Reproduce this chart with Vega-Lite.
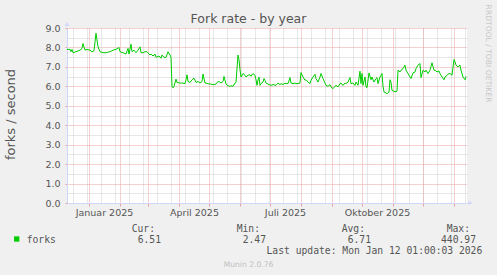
{
  "$schema": "https://vega.github.io/schema/vega-lite/v6.json",
  "width": 400,
  "height": 175,
  "autosize": {"type": "none"},
  "padding": {"left": 67, "top": 28, "right": 30, "bottom": 72},
  "background": "#F0F0F0",
  "config": {"view": {"fill": "#FFFFFF", "stroke": null}, "font": "DejaVu Sans"},
  "title": {"text": "Fork rate - by year", "font": "DejaVu Sans", "fontSize": 12.5, "fontWeight": "normal", "color": "#555555", "anchor": "middle", "frame": "group", "dx": -18.5, "dy": 31, "offset": 0, "baseline": "alphabetic"},
  "datasets": {
    "forks": [
      {"date": "2024-12-10", "value": 7.90}, {"date": "2024-12-13", "value": 7.90}, {"date": "2024-12-14", "value": 7.78}, {"date": "2024-12-15", "value": 7.90},
      {"date": "2024-12-16", "value": 7.73}, {"date": "2024-12-19", "value": 7.78}, {"date": "2024-12-23", "value": 7.86}, {"date": "2024-12-25", "value": 7.95},
      {"date": "2024-12-26", "value": 8.20}, {"date": "2024-12-28", "value": 7.86}, {"date": "2024-12-30", "value": 7.90}, {"date": "2025-01-02", "value": 7.86},
      {"date": "2025-01-04", "value": 7.78}, {"date": "2025-01-06", "value": 7.83}, {"date": "2025-01-08", "value": 8.73}, {"date": "2025-01-10", "value": 8.03},
      {"date": "2025-01-12", "value": 7.78}, {"date": "2025-01-15", "value": 7.73}, {"date": "2025-01-18", "value": 7.73}, {"date": "2025-01-22", "value": 7.78},
      {"date": "2025-01-25", "value": 7.86}, {"date": "2025-01-28", "value": 7.90}, {"date": "2025-01-31", "value": 8.00}, {"date": "2025-02-01", "value": 7.78},
      {"date": "2025-02-04", "value": 7.73}, {"date": "2025-02-07", "value": 7.66}, {"date": "2025-02-09", "value": 7.95}, {"date": "2025-02-10", "value": 7.66},
      {"date": "2025-02-12", "value": 8.17}, {"date": "2025-02-13", "value": 7.78}, {"date": "2025-02-15", "value": 7.86}, {"date": "2025-02-17", "value": 7.73},
      {"date": "2025-02-19", "value": 7.86}, {"date": "2025-02-21", "value": 8.03}, {"date": "2025-02-22", "value": 7.73}, {"date": "2025-02-24", "value": 7.73},
      {"date": "2025-02-26", "value": 7.78}, {"date": "2025-02-28", "value": 7.78}, {"date": "2025-03-03", "value": 7.61}, {"date": "2025-03-04", "value": 7.66},
      {"date": "2025-03-06", "value": 7.56}, {"date": "2025-03-08", "value": 7.66}, {"date": "2025-03-09", "value": 7.49}, {"date": "2025-03-12", "value": 7.56},
      {"date": "2025-03-14", "value": 7.44}, {"date": "2025-03-15", "value": 7.61}, {"date": "2025-03-17", "value": 7.49}, {"date": "2025-03-19", "value": 7.49},
      {"date": "2025-03-21", "value": 7.78}, {"date": "2025-03-23", "value": 7.61}, {"date": "2025-03-24", "value": 7.49}, {"date": "2025-03-25", "value": 6.00},
      {"date": "2025-03-26", "value": 5.92}, {"date": "2025-03-27", "value": 6.00}, {"date": "2025-03-29", "value": 6.37}, {"date": "2025-03-30", "value": 6.20},
      {"date": "2025-04-02", "value": 6.17}, {"date": "2025-04-04", "value": 6.17}, {"date": "2025-04-07", "value": 6.14}, {"date": "2025-04-08", "value": 6.34},
      {"date": "2025-04-09", "value": 6.59}, {"date": "2025-04-10", "value": 6.25}, {"date": "2025-04-12", "value": 6.20}, {"date": "2025-04-14", "value": 6.34},
      {"date": "2025-04-16", "value": 6.42}, {"date": "2025-04-18", "value": 6.20}, {"date": "2025-04-20", "value": 6.25}, {"date": "2025-04-22", "value": 6.17},
      {"date": "2025-04-24", "value": 6.25}, {"date": "2025-04-25", "value": 6.63}, {"date": "2025-04-27", "value": 6.17}, {"date": "2025-04-28", "value": 6.17},
      {"date": "2025-05-01", "value": 6.12}, {"date": "2025-05-03", "value": 6.12}, {"date": "2025-05-05", "value": 6.08}, {"date": "2025-05-08", "value": 6.12},
      {"date": "2025-05-09", "value": 6.20}, {"date": "2025-05-11", "value": 6.25}, {"date": "2025-05-13", "value": 6.17}, {"date": "2025-05-15", "value": 6.25},
      {"date": "2025-05-16", "value": 6.51}, {"date": "2025-05-18", "value": 6.12}, {"date": "2025-05-20", "value": 6.03}, {"date": "2025-05-22", "value": 6.00},
      {"date": "2025-05-23", "value": 6.03}, {"date": "2025-05-25", "value": 6.00}, {"date": "2025-05-27", "value": 6.17}, {"date": "2025-05-28", "value": 6.20},
      {"date": "2025-05-30", "value": 7.61}, {"date": "2025-05-31", "value": 7.36}, {"date": "2025-06-01", "value": 6.85}, {"date": "2025-06-02", "value": 6.48},
      {"date": "2025-06-04", "value": 6.66}, {"date": "2025-06-06", "value": 6.57}, {"date": "2025-06-07", "value": 6.48}, {"date": "2025-06-09", "value": 6.57},
      {"date": "2025-06-11", "value": 6.60}, {"date": "2025-06-12", "value": 6.52}, {"date": "2025-06-14", "value": 6.66}, {"date": "2025-06-16", "value": 6.57},
      {"date": "2025-06-17", "value": 6.34}, {"date": "2025-06-18", "value": 6.05}, {"date": "2025-06-19", "value": 6.34}, {"date": "2025-06-20", "value": 6.48},
      {"date": "2025-06-21", "value": 6.05}, {"date": "2025-06-22", "value": 6.14}, {"date": "2025-06-24", "value": 6.22}, {"date": "2025-06-25", "value": 6.40},
      {"date": "2025-06-26", "value": 6.31}, {"date": "2025-06-27", "value": 6.17}, {"date": "2025-06-30", "value": 6.09}, {"date": "2025-07-02", "value": 6.05},
      {"date": "2025-07-04", "value": 6.09}, {"date": "2025-07-07", "value": 6.05}, {"date": "2025-07-09", "value": 6.17}, {"date": "2025-07-11", "value": 6.09},
      {"date": "2025-07-12", "value": 6.14}, {"date": "2025-07-14", "value": 6.09}, {"date": "2025-07-16", "value": 6.17}, {"date": "2025-07-17", "value": 6.14},
      {"date": "2025-07-19", "value": 6.14}, {"date": "2025-07-21", "value": 6.45}, {"date": "2025-07-22", "value": 6.17}, {"date": "2025-07-24", "value": 6.14},
      {"date": "2025-07-26", "value": 6.17}, {"date": "2025-07-27", "value": 6.14}, {"date": "2025-07-29", "value": 6.14}, {"date": "2025-07-31", "value": 6.17},
      {"date": "2025-08-01", "value": 6.71}, {"date": "2025-08-03", "value": 6.48}, {"date": "2025-08-05", "value": 6.31}, {"date": "2025-08-06", "value": 6.34},
      {"date": "2025-08-08", "value": 6.22}, {"date": "2025-08-10", "value": 6.14}, {"date": "2025-08-11", "value": 6.31}, {"date": "2025-08-13", "value": 6.48},
      {"date": "2025-08-15", "value": 6.62}, {"date": "2025-08-16", "value": 6.40}, {"date": "2025-08-18", "value": 6.22}, {"date": "2025-08-20", "value": 6.48},
      {"date": "2025-08-21", "value": 6.66}, {"date": "2025-08-23", "value": 6.40}, {"date": "2025-08-25", "value": 6.17}, {"date": "2025-08-26", "value": 6.05},
      {"date": "2025-08-28", "value": 6.00}, {"date": "2025-08-30", "value": 6.09}, {"date": "2025-08-31", "value": 5.97}, {"date": "2025-09-02", "value": 5.88},
      {"date": "2025-09-04", "value": 6.00}, {"date": "2025-09-05", "value": 6.05}, {"date": "2025-09-07", "value": 5.97}, {"date": "2025-09-09", "value": 6.14},
      {"date": "2025-09-10", "value": 6.17}, {"date": "2025-09-12", "value": 6.05}, {"date": "2025-09-14", "value": 6.17}, {"date": "2025-09-15", "value": 6.14},
      {"date": "2025-09-17", "value": 6.22}, {"date": "2025-09-19", "value": 6.45}, {"date": "2025-09-20", "value": 6.14}, {"date": "2025-09-22", "value": 6.17},
      {"date": "2025-09-24", "value": 6.05}, {"date": "2025-09-25", "value": 6.22}, {"date": "2025-09-27", "value": 6.05}, {"date": "2025-09-29", "value": 6.78},
      {"date": "2025-09-30", "value": 6.14}, {"date": "2025-10-01", "value": 6.66}, {"date": "2025-10-02", "value": 6.05}, {"date": "2025-10-04", "value": 6.48},
      {"date": "2025-10-05", "value": 5.97}, {"date": "2025-10-06", "value": 5.93}, {"date": "2025-10-08", "value": 6.69}, {"date": "2025-10-10", "value": 6.34},
      {"date": "2025-10-11", "value": 6.48}, {"date": "2025-10-13", "value": 6.22}, {"date": "2025-10-15", "value": 6.40}, {"date": "2025-10-16", "value": 6.45},
      {"date": "2025-10-17", "value": 6.14}, {"date": "2025-10-19", "value": 6.48}, {"date": "2025-10-20", "value": 6.57}, {"date": "2025-10-21", "value": 6.66},
      {"date": "2025-10-22", "value": 6.00}, {"date": "2025-10-23", "value": 5.71}, {"date": "2025-10-25", "value": 5.66}, {"date": "2025-10-26", "value": 5.62},
      {"date": "2025-10-28", "value": 5.71}, {"date": "2025-10-29", "value": 6.34}, {"date": "2025-10-30", "value": 6.22}, {"date": "2025-10-31", "value": 5.79},
      {"date": "2025-11-02", "value": 5.74}, {"date": "2025-11-03", "value": 5.74}, {"date": "2025-11-04", "value": 5.71}, {"date": "2025-11-05", "value": 5.76},
      {"date": "2025-11-06", "value": 6.83}, {"date": "2025-11-08", "value": 6.74}, {"date": "2025-11-09", "value": 6.83}, {"date": "2025-11-11", "value": 6.91},
      {"date": "2025-11-13", "value": 7.09}, {"date": "2025-11-14", "value": 6.83}, {"date": "2025-11-16", "value": 6.66}, {"date": "2025-11-18", "value": 6.48},
      {"date": "2025-11-19", "value": 6.40}, {"date": "2025-11-21", "value": 6.69}, {"date": "2025-11-23", "value": 6.74}, {"date": "2025-11-24", "value": 6.91},
      {"date": "2025-11-26", "value": 7.09}, {"date": "2025-11-28", "value": 7.17}, {"date": "2025-11-29", "value": 6.45}, {"date": "2025-12-01", "value": 6.83},
      {"date": "2025-12-03", "value": 6.74}, {"date": "2025-12-04", "value": 6.83}, {"date": "2025-12-06", "value": 6.66}, {"date": "2025-12-08", "value": 6.83},
      {"date": "2025-12-09", "value": 7.03}, {"date": "2025-12-10", "value": 7.21}, {"date": "2025-12-12", "value": 6.83}, {"date": "2025-12-13", "value": 6.83},
      {"date": "2025-12-15", "value": 6.74}, {"date": "2025-12-17", "value": 6.79}, {"date": "2025-12-18", "value": 6.66}, {"date": "2025-12-20", "value": 6.48},
      {"date": "2025-12-22", "value": 6.34}, {"date": "2025-12-23", "value": 6.48}, {"date": "2025-12-25", "value": 6.57}, {"date": "2025-12-27", "value": 6.66},
      {"date": "2025-12-28", "value": 6.66}, {"date": "2025-12-30", "value": 6.57}, {"date": "2026-01-01", "value": 7.38}, {"date": "2026-01-02", "value": 7.26},
      {"date": "2026-01-03", "value": 7.09}, {"date": "2026-01-05", "value": 7.00}, {"date": "2026-01-07", "value": 7.09}, {"date": "2026-01-08", "value": 6.83},
      {"date": "2026-01-10", "value": 6.48}, {"date": "2026-01-12", "value": 6.34}, {"date": "2026-01-13", "value": 6.51}
    ]
  },
  "layer": [
    {
      "data": {"name": "forks"},
      "mark": {"type": "line", "strokeOpacity": 0},
      "encoding": {
        "x": {"field": "date", "type": "temporal",
          "scale": {"type": "utc", "domain": [{"year": 2024, "month": 12, "date": 10, "utc": true}, {"year": 2026, "month": 1, "date": 14, "utc": true}]},
          "axis": {"orient": "top", "title": null, "labels": false, "ticks": false, "domain": false, "grid": true, "gridColor": "#CFCFCF", "gridDash": [1, 1], "gridOpacity": 1,
            "values": [
              {"year": 2024, "month": 12, "date": 16, "utc": true}, {"year": 2024, "month": 12, "date": 30, "utc": true},
              {"year": 2025, "month": 1, "date": 13, "utc": true}, {"year": 2025, "month": 1, "date": 27, "utc": true},
              {"year": 2025, "month": 2, "date": 10, "utc": true}, {"year": 2025, "month": 2, "date": 24, "utc": true},
              {"year": 2025, "month": 3, "date": 10, "utc": true}, {"year": 2025, "month": 3, "date": 24, "utc": true},
              {"year": 2025, "month": 4, "date": 7, "utc": true}, {"year": 2025, "month": 4, "date": 21, "utc": true},
              {"year": 2025, "month": 5, "date": 5, "utc": true}, {"year": 2025, "month": 5, "date": 19, "utc": true},
              {"year": 2025, "month": 6, "date": 2, "utc": true}, {"year": 2025, "month": 6, "date": 16, "utc": true},
              {"year": 2025, "month": 6, "date": 30, "utc": true}, {"year": 2025, "month": 7, "date": 14, "utc": true},
              {"year": 2025, "month": 7, "date": 28, "utc": true}, {"year": 2025, "month": 8, "date": 11, "utc": true},
              {"year": 2025, "month": 8, "date": 25, "utc": true}, {"year": 2025, "month": 9, "date": 8, "utc": true},
              {"year": 2025, "month": 9, "date": 22, "utc": true}, {"year": 2025, "month": 10, "date": 6, "utc": true},
              {"year": 2025, "month": 10, "date": 20, "utc": true}, {"year": 2025, "month": 11, "date": 3, "utc": true},
              {"year": 2025, "month": 11, "date": 17, "utc": true}, {"year": 2025, "month": 12, "date": 1, "utc": true},
              {"year": 2025, "month": 12, "date": 15, "utc": true}, {"year": 2025, "month": 12, "date": 29, "utc": true},
              {"year": 2026, "month": 1, "date": 12, "utc": true}
            ]}},
        "y": {"field": "value", "type": "quantitative",
          "scale": {"domain": [0, 9], "nice": false},
          "axis": {"orient": "right", "title": null, "labels": false, "ticks": false, "domain": false, "grid": true, "gridColor": "#CFCFCF", "gridDash": [1, 1], "gridOpacity": 1,
            "values": [0.5, 1.5, 2.5, 3.5, 4.5, 5.5, 6.5, 7.5, 8.5]}}
      }
    },
    {
      "data": {"name": "forks"},
      "mark": {"type": "line", "color": "#00CC00", "strokeWidth": 1},
      "encoding": {
        "x": {"field": "date", "type": "temporal",
          "scale": {"type": "utc", "domain": [{"year": 2024, "month": 12, "date": 10, "utc": true}, {"year": 2026, "month": 1, "date": 14, "utc": true}]},
          "axis": {"orient": "bottom", "title": null, "grid": true, "gridColor": "#EBA0A0", "gridDash": [1, 1], "gridOpacity": 1,
            "ticks": true, "tickColor": "#EBA0A0", "tickSize": 3,
            "domain": true, "domainColor": "#CFD6F8",
            "labelExpr": "utcyear(datum.value) == 2025 && utcmonth(datum.value) % 3 == 0 ? ['Januar','','','April','','','Juli','','','Oktober','',''][utcmonth(datum.value)] + ' 2025' : ''",
            "labelOffset": 15, "labelFlush": false, "labelOverlap": false, "labelAlign": "center", "labelBaseline": "alphabetic", "labelPadding": 9,
            "labelFont": "DejaVu Sans", "labelFontSize": 9.5, "labelColor": "#555555",
            "values": [
              {"year": 2025, "month": 1, "date": 1, "utc": true}, {"year": 2025, "month": 2, "date": 1, "utc": true},
              {"year": 2025, "month": 3, "date": 1, "utc": true}, {"year": 2025, "month": 4, "date": 1, "utc": true},
              {"year": 2025, "month": 5, "date": 1, "utc": true}, {"year": 2025, "month": 6, "date": 1, "utc": true},
              {"year": 2025, "month": 7, "date": 1, "utc": true}, {"year": 2025, "month": 8, "date": 1, "utc": true},
              {"year": 2025, "month": 9, "date": 1, "utc": true}, {"year": 2025, "month": 10, "date": 1, "utc": true},
              {"year": 2025, "month": 11, "date": 1, "utc": true}, {"year": 2025, "month": 12, "date": 1, "utc": true},
              {"year": 2026, "month": 1, "date": 1, "utc": true}
            ]}},
        "y": {"field": "value", "type": "quantitative",
          "scale": {"domain": [0, 9], "nice": false},
          "axis": {"orient": "left", "values": [0, 1, 2, 3, 4, 5, 6, 7, 8, 9], "format": ".1f",
            "grid": true, "gridColor": "#EBA0A0", "gridDash": [1, 1], "gridOpacity": 1,
            "ticks": true, "tickColor": "#EBA0A0", "tickSize": 2,
            "domain": true, "domainColor": "#CFD6F8",
            "labelFont": "DejaVu Sans", "labelFontSize": 9.5, "labelColor": "#555555", "labelPadding": 5,
            "title": "forks / second", "titleFont": "DejaVu Sans", "titleFontSize": 13, "titleFontWeight": "normal", "titleColor": "#555555",
            "titleAngle": -90, "titleAlign": "center", "titleBaseline": "alphabetic", "titleX": -52.5, "titleY": 86}}
      }
    },
    {
      "data": {"values": [
        {"row": "head", "col": "cur", "text": "Cur:"}, {"row": "head", "col": "min", "text": "Min:"},
        {"row": "head", "col": "avg", "text": "Avg:"}, {"row": "head", "col": "max", "text": "Max:"}
      ]},
      "mark": {"type": "text", "align": "right", "baseline": "alphabetic", "font": "DejaVu Sans Mono", "fontSize": 9.7, "color": "#555555"},
      "encoding": {
        "x": {"field": "col", "type": "nominal", "scale": {"type": "point", "domain": ["cur", "min", "avg", "max"], "range": [88, 403], "padding": 0}, "axis": null},
        "y": {"field": "row", "type": "nominal", "scale": {"type": "point", "domain": ["head", "val", "upd"], "range": [203.7, 225.7], "padding": 0}, "axis": null},
        "text": {"field": "text"}
      }
    },
    {
      "data": {"values": [
        {"row": "val", "col": "cur", "text": "6.51"}, {"row": "val", "col": "min", "text": "2.47"},
        {"row": "val", "col": "avg", "text": "6.71"}, {"row": "val", "col": "max", "text": "440.97"}
      ]},
      "mark": {"type": "text", "align": "right", "baseline": "alphabetic", "dx": 6, "font": "DejaVu Sans Mono", "fontSize": 9.7, "color": "#555555"},
      "encoding": {
        "x": {"field": "col", "type": "nominal", "scale": {"type": "point", "domain": ["cur", "min", "avg", "max"], "range": [88, 403], "padding": 0}, "axis": null},
        "y": {"field": "row", "type": "nominal", "scale": {"type": "point", "domain": ["head", "val", "upd"], "range": [203.7, 225.7], "padding": 0}, "axis": null},
        "text": {"field": "text"}
      }
    },
    {
      "data": {"values": [
        {"row": "upd", "col": "max", "text": "Last update: Mon Jan 12 01:00:03 2026"}
      ]},
      "mark": {"type": "text", "align": "right", "baseline": "alphabetic", "dx": 12.3, "font": "DejaVu Sans Mono", "fontSize": 9.7, "color": "#555555"},
      "encoding": {
        "x": {"field": "col", "type": "nominal", "scale": {"type": "point", "domain": ["cur", "min", "avg", "max"], "range": [88, 403], "padding": 0}, "axis": null},
        "y": {"field": "row", "type": "nominal", "scale": {"type": "point", "domain": ["head", "val", "upd"], "range": [203.7, 225.7], "padding": 0}, "axis": null},
        "text": {"field": "text"}
      }
    },
    {
      "data": {"values": [{"row": "val", "col": "forks", "text": "forks"}]},
      "mark": {"type": "text", "align": "left", "baseline": "alphabetic", "font": "DejaVu Sans Mono", "fontSize": 9.7, "color": "#555555"},
      "encoding": {
        "x": {"field": "col", "type": "nominal", "scale": {"type": "point", "domain": ["swatch", "forks"], "range": [-50.3, -40.3], "padding": 0}, "axis": null},
        "y": {"field": "row", "type": "nominal", "scale": {"type": "point", "domain": ["head", "val", "upd"], "range": [203.7, 225.7], "padding": 0}, "axis": null},
        "text": {"field": "text"}
      }
    },
    {
      "data": {"values": [{"row": "val", "col": "swatch", "series": "forks"}]},
      "mark": {"type": "point", "shape": "square", "filled": true, "size": 28, "color": "#00CC00", "opacity": 1},
      "encoding": {
        "x": {"field": "col", "type": "nominal", "scale": {"type": "point", "domain": ["swatch", "forks"], "range": [-50.3, -40.3], "padding": 0}, "axis": null},
        "y": {"field": "row", "type": "nominal", "scale": {"type": "point", "domain": ["head", "val", "upd"], "range": [200, 222], "padding": 0}, "axis": null}
      }
    },
    {
      "data": {"values": [{"text": "RRDTOOL / TOBI OETIKER"}]},
      "mark": {"type": "text", "angle": 90, "align": "center", "baseline": "middle", "font": "DejaVu Sans", "fontSize": 7.6, "color": "#C8C8C8"},
      "encoding": {
        "x": {"field": "text", "type": "nominal", "scale": {"type": "point", "domain": ["RRDTOOL / TOBI OETIKER"], "range": [421, 421], "padding": 0}, "axis": null},
        "y": {"field": "text", "type": "nominal", "scale": {"type": "point", "domain": ["RRDTOOL / TOBI OETIKER"], "range": [25.5, 25.5], "padding": 0}, "axis": null},
        "text": {"field": "text"}
      }
    },
    {
      "data": {"values": [{"text": "Munin 2.0.76"}]},
      "mark": {"type": "text", "align": "center", "baseline": "alphabetic", "font": "DejaVu Sans", "fontSize": 7.6, "color": "#C0C0C0"},
      "encoding": {
        "x": {"field": "text", "type": "nominal", "scale": {"type": "point", "domain": ["Munin 2.0.76"], "range": [181.5, 181.5], "padding": 0}, "axis": null},
        "y": {"field": "text", "type": "nominal", "scale": {"type": "point", "domain": ["Munin 2.0.76"], "range": [239, 239], "padding": 0}, "axis": null},
        "text": {"field": "text"}
      }
    },
    {
      "data": {"values": [{"axis": "x"}, {"axis": "y"}]},
      "mark": {"type": "point", "filled": true, "size": 22, "color": "#CFD6F8", "opacity": 1},
      "encoding": {
        "x": {"field": "axis", "type": "nominal", "scale": {"type": "point", "domain": ["y", "x"], "range": [0, 403.5], "padding": 0}, "axis": null},
        "y": {"field": "axis", "type": "nominal", "scale": {"type": "point", "domain": ["y", "x"], "range": [-4, 175], "padding": 0}, "axis": null},
        "shape": {"field": "axis", "type": "nominal", "scale": {"domain": ["x", "y"], "range": ["triangle-right", "triangle-up"]}, "legend": null}
      }
    }
  ],
  "resolve": {"scale": {"x": "independent", "y": "independent", "shape": "independent"}, "axis": {"x": "independent", "y": "independent"}}
}
